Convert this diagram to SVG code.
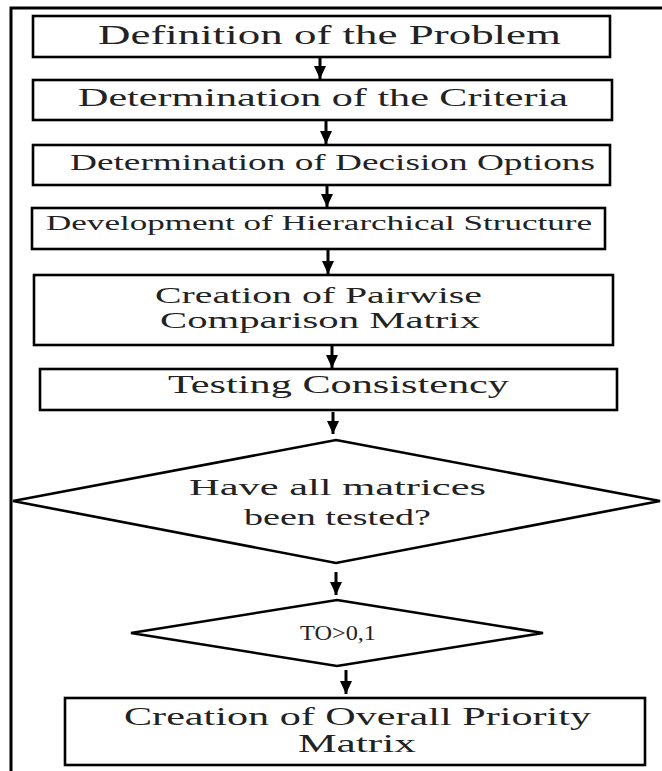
<svg xmlns="http://www.w3.org/2000/svg" width="662" height="771" viewBox="0 0 662 771">
<style>
.box{fill:#fff;stroke:#000;stroke-width:2.6}
.frame{fill:none;stroke:#000;stroke-width:3}
.t{font-family:"Liberation Serif","DejaVu Serif",serif;fill:#222}
.c{stroke:#000;stroke-width:3;fill:none}
</style>
<defs>
<marker id="ah" markerUnits="userSpaceOnUse" markerWidth="14" markerHeight="12" refX="13" refY="6" orient="auto">
<path d="M0,0 L13,6 L0,12 Z" fill="#000"/>
</marker>
</defs>
<rect width="662" height="771" fill="#fff"/>
<path class="frame" d="M11,771 L11,8 L662,8"/>
<g id="n1"><rect class="box" x="33" y="16" width="577" height="41"/><text class="t" x="98" y="44" font-size="27" textLength="463" lengthAdjust="spacingAndGlyphs">Definition of the Problem</text></g>
<g id="n2"><rect class="box" x="33" y="80" width="579" height="40"/><text class="t" x="78" y="106" font-size="26" textLength="490" lengthAdjust="spacingAndGlyphs">Determination of the Criteria</text></g>
<g id="n3"><rect class="box" x="33" y="145" width="577" height="40"/><text class="t" x="70" y="170" font-size="23" textLength="525" lengthAdjust="spacingAndGlyphs">Determination of Decision Options</text></g>
<g id="n4"><rect class="box" x="32" y="208" width="573" height="41"/><text class="t" x="46" y="230" font-size="20" textLength="546" lengthAdjust="spacingAndGlyphs">Development of Hierarchical Structure</text></g>
<g id="n5"><rect class="box" x="34" y="275" width="579" height="70"/><text class="t" x="155" y="303" font-size="23" textLength="327" lengthAdjust="spacingAndGlyphs">Creation of Pairwise</text><text class="t" x="160" y="328" font-size="23" textLength="320" lengthAdjust="spacingAndGlyphs">Comparison Matrix</text></g>
<g id="n6"><rect class="box" x="40" y="369" width="577" height="41"/><text class="t" x="168" y="393" font-size="25" textLength="341" lengthAdjust="spacingAndGlyphs">Testing Consistency</text></g>
<g id="n7"><polygon class="box" points="336,440 660,501 336,563 13,501"/><text class="t" x="189" y="495" font-size="23" textLength="297" lengthAdjust="spacingAndGlyphs">Have all matrices</text><text class="t" x="244" y="525" font-size="23" textLength="187" lengthAdjust="spacingAndGlyphs">been tested?</text></g>
<g id="n8"><polygon class="box" points="337,600 543,633 337,666 131,633"/><text class="t" x="300" y="640" font-size="20" textLength="76" lengthAdjust="spacingAndGlyphs">TO&gt;0,1</text></g>
<g id="n9"><rect class="box" x="65" y="698" width="580" height="67"/><text class="t" x="124" y="725" font-size="25" textLength="467" lengthAdjust="spacingAndGlyphs">Creation of Overall Priority</text><text class="t" x="298" y="752" font-size="25" textLength="118" lengthAdjust="spacingAndGlyphs">Matrix</text></g>
<g id="connectors">
<line class="c" x1="320" y1="57" x2="320" y2="79" marker-end="url(#ah)"/>
<line class="c" x1="326" y1="120" x2="326" y2="144" marker-end="url(#ah)"/>
<line class="c" x1="327" y1="185" x2="327" y2="207" marker-end="url(#ah)"/>
<line class="c" x1="328" y1="249" x2="328" y2="274" marker-end="url(#ah)"/>
<line class="c" x1="332" y1="345" x2="332" y2="368" marker-end="url(#ah)"/>
<line class="c" x1="333" y1="412" x2="333" y2="434" marker-end="url(#ah)"/>
<line class="c" x1="336" y1="572" x2="336" y2="595" marker-end="url(#ah)"/>
<line class="c" x1="346" y1="670" x2="346" y2="694" marker-end="url(#ah)"/>
</g>
</svg>
